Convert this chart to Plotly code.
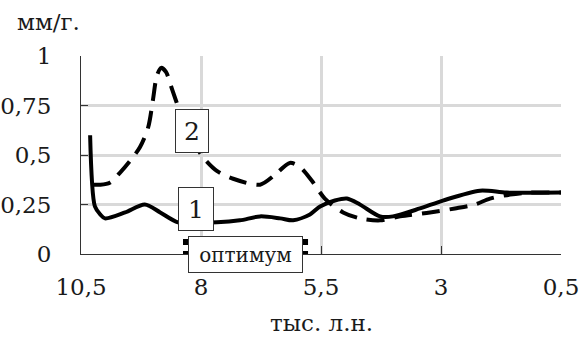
import plotly.graph_objects as go

# Curve 1 (solid)
x1 = [10.31, 10.21, 10.10, 10.0, 9.58, 9.17, 8.85, 8.48, 8.02, 7.67, 7.19, 6.77, 6.35,
      6.08, 5.73, 5.52, 5.21, 4.96, 4.69, 4.27, 4.0, 3.44, 2.96, 2.19, 1.63, 0.5]
y1 = [0.60, 0.24, 0.20, 0.18, 0.21, 0.25, 0.21, 0.16, 0.16, 0.16, 0.17, 0.19, 0.18,
      0.17, 0.20, 0.24, 0.27, 0.28, 0.25, 0.19, 0.19, 0.23, 0.27, 0.32, 0.31, 0.31]

# Curve 2 (dashed)
x2 = [10.25, 10.10, 9.90, 9.69, 9.48, 9.27, 9.10, 9.0, 8.92, 8.83, 8.73, 8.60, 8.44,
      8.23, 7.96, 7.67, 7.33, 6.77, 6.46, 6.15, 5.94, 5.69, 5.42, 5.04, 4.69, 4.27,
      3.85, 3.23, 2.71, 2.29, 1.98, 1.56, 1.15, 0.5]
y2 = [0.35, 0.35, 0.36, 0.41, 0.47, 0.54, 0.64, 0.78, 0.90, 0.94, 0.92, 0.83, 0.72,
      0.60, 0.49, 0.42, 0.38, 0.35, 0.40, 0.46, 0.44, 0.37, 0.28, 0.21, 0.18, 0.17,
      0.19, 0.21, 0.23, 0.25, 0.28, 0.30, 0.31, 0.31]

x_ticks = [10.5, 8, 5.5, 3, 0.5]
x_tick_labels = ["10,5", "8", "5,5", "3", "0,5"]
y_ticks = [0, 0.25, 0.5, 0.75, 1]
y_tick_labels = ["0", "0,25", "0,5", "0,75", "1"]

y_title = "мм/г."
x_title = "тыс. л.н."
label1, label2, optimum_label = "1", "2", "оптимум"

FONT = "DejaVu Serif"
INK = "#1a1a1a"

fig = go.Figure()
fig.add_trace(go.Scatter(x=x1, y=y1, mode="lines",
                         line=dict(color="black", width=4, shape="spline", smoothing=0.8),
                         showlegend=False, hoverinfo="skip"))
fig.add_trace(go.Scatter(x=x2, y=y2, mode="lines",
                         line=dict(color="black", width=4, shape="spline", smoothing=0.8,
                                   dash="18px,10px"),
                         showlegend=False, hoverinfo="skip"))

# thick bars behind the "optimum" box
for yb in [0.06, 0.0]:
    fig.add_shape(type="line", xref="x", yref="y", x0=8.375, x1=5.77, y0=yb, y1=yb,
                  line=dict(color="black", width=6), layer="above")

fig.update_layout(
    width=580, height=337,
    margin=dict(l=81, r=19, t=56, b=83, autoexpand=False),
    plot_bgcolor="white", paper_bgcolor="white",
    font=dict(family=FONT, size=23, color=INK),
    xaxis=dict(range=[10.5, 0.5], tickvals=x_ticks, ticktext=x_tick_labels,
               showgrid=True, gridcolor="#d9d9d9", gridwidth=3,
               showline=True, linecolor="#333333", linewidth=1,
               ticks="inside", ticklen=8, tickcolor="#333333",
               zeroline=False, ticklabelstandoff=12, automargin=False,
               tickfont=dict(family=FONT, size=23, color=INK)),
    yaxis=dict(range=[0, 1], tickvals=y_ticks, ticktext=y_tick_labels,
               showgrid=True, gridcolor="#d9d9d9", gridwidth=3,
               showline=True, linecolor="#333333", linewidth=1,
               ticks="inside", ticklen=7, tickcolor="#333333",
               zeroline=False, ticklabelstandoff=24, automargin=False,
               tickfont=dict(family=FONT, size=23, color=INK)),
    annotations=[
        dict(text=y_title, xref="paper", yref="paper", x=-0.1375, y=1.17,
             xanchor="left", yanchor="middle", showarrow=False,
             font=dict(family=FONT, size=23, color=INK)),
        dict(text=x_title, xref="paper", yref="paper", x=0.5, y=-0.35,
             xanchor="center", yanchor="middle", showarrow=False,
             font=dict(family=FONT, size=23, color=INK)),
        dict(text=label2, xref="x", yref="y", x=8.19, y=0.62, showarrow=False,
             xanchor="center", yanchor="middle",
             bgcolor="white", bordercolor="#333333", borderwidth=1, borderpad=0,
             width=32, height=42, font=dict(family=FONT, size=25, color=INK)),
        dict(text=label1, xref="x", yref="y", x=8.10, y=0.227, showarrow=False,
             xanchor="center", yanchor="middle",
             bgcolor="white", bordercolor="#333333", borderwidth=1, borderpad=0,
             width=34, height=42, font=dict(family=FONT, size=25, color=INK)),
        dict(text=optimum_label, xref="x", yref="paper", x=7.08, y=-0.003, showarrow=False,
             xanchor="center", yanchor="middle",
             bgcolor="white", bordercolor="#333333", borderwidth=1, borderpad=0,
             width=113, height=35, font=dict(family=FONT, size=20, color=INK)),
    ],
)

fig.write_html("out.html", config={"displayModeBar": False},
               post_script="document.body.style.margin='0px';")
